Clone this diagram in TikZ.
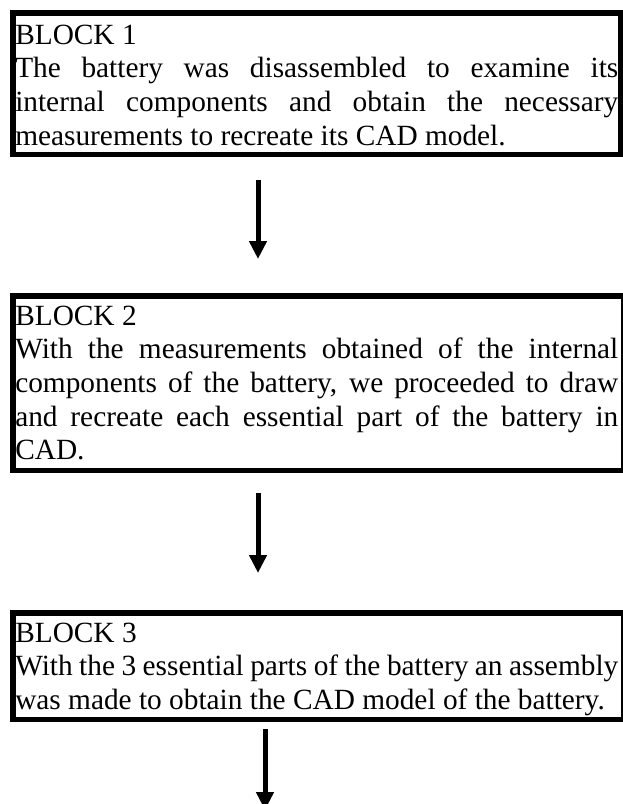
\documentclass[tikz,border=0pt]{standalone}
\usepackage{fontspec}
\setmainfont{Liberation Serif}
\usetikzlibrary{arrows.meta}
\begin{document}
\begin{tikzpicture}[x=0.75pt,y=-0.75pt,
  blockbox/.style={draw, line width=4.125pt, inner sep=0pt},
  blocktext/.style={anchor=north west, inner sep=0pt, text width=452.25pt, align=justify,
    font=\fontsize{22}{25.2}\selectfont},
  flowarrow/.style={line width=3.75pt, -{Triangle[width=12.75pt,length=13.5pt]}}]
\useasboundingbox (0,0) rectangle (623,804);
% boxes
\node (b1) [blockbox, minimum width=455.625pt, minimum height=106.125pt] at (316.5,83.5) {};
\node (b2) [blockbox, minimum width=457.875pt, minimum height=130.875pt] at (318,383) {};
\node (b3) [blockbox, minimum width=457.875pt, minimum height=79.875pt] at (318,666) {};
% texts
\node (t1) [blocktext] at (15,20) {\rule{0pt}{18pt}BLOCK 1\\
The battery was disassembled to examine its\linebreak
internal components and obtain the necessary\linebreak
measurements to recreate its CAD model.};
\node (t2) [blocktext] at (15,301) {\rule{0pt}{18pt}BLOCK 2\\
With the measurements obtained of the internal\linebreak
components of the battery, we proceeded to draw\linebreak
and recreate each essential part of the battery in\linebreak
CAD.};
\node (t3) [blocktext] at (15,618) {\rule{0pt}{18pt}BLOCK 3\\
With the 3 essential parts of the battery an assembly\linebreak
was made to obtain the CAD model of the battery.};
% arrows
\coordinate (ax) at (258,0);
\coordinate (bx) at (265,0);
\coordinate (end3) at (265,810);
\draw[flowarrow, shorten <=17.25pt, shorten >=25.5pt] (b1.south -| ax) -- (b2.north -| ax);
\draw[flowarrow, shorten <=15pt, shorten >=27.75pt] (b2.south -| ax) -- (b3.north -| ax);
\draw[flowarrow, shorten <=5.25pt] (b3.south -| bx) -- (end3);
\end{tikzpicture}
\end{document}
